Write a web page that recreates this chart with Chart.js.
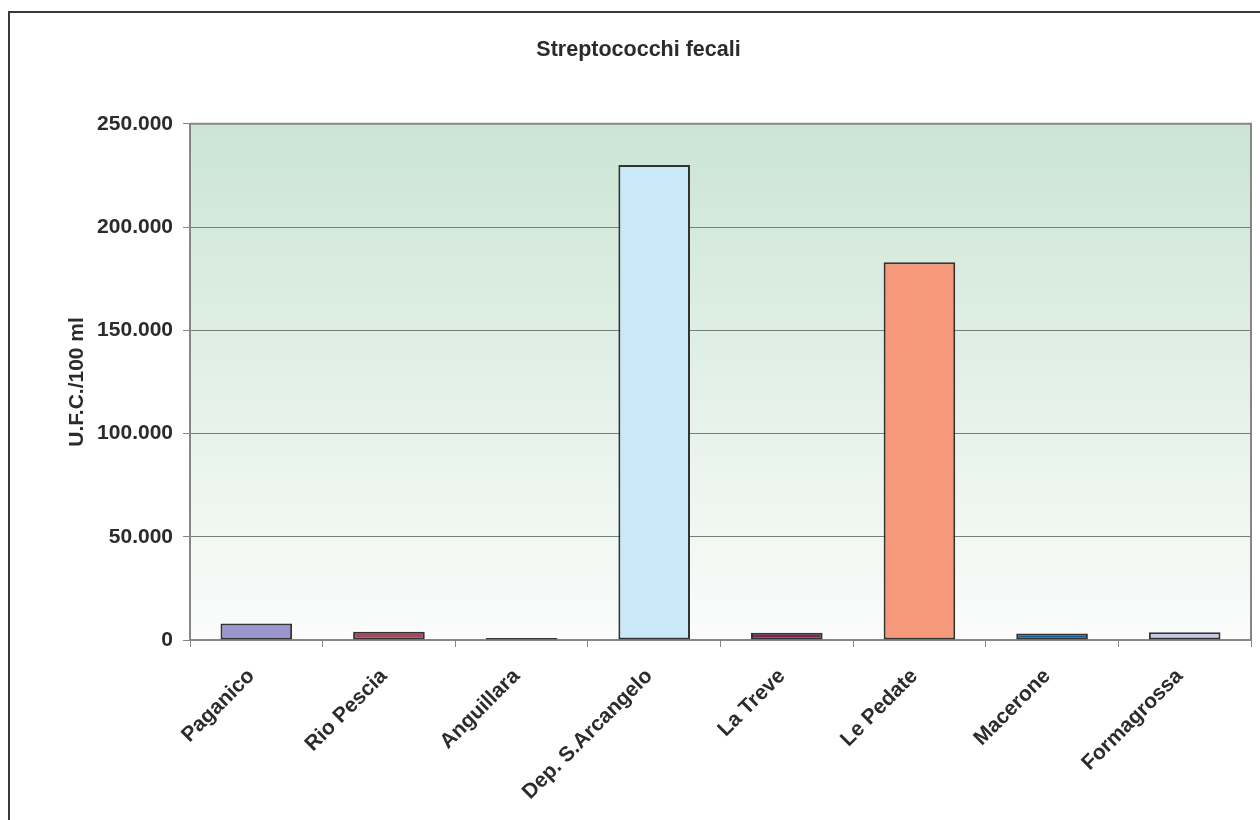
<!DOCTYPE html>
<html>
<head>
<meta charset="utf-8">
<title>Streptococchi fecali</title>
<script src="https://cdn.jsdelivr.net/npm/chart.js@4.4.1/dist/chart.umd.min.js"></script>
<style>
  html, body { margin: 0; padding: 0; background: #fff; overflow: hidden; }
  #wrap { position: relative; width: 1260px; height: 820px; }
  #frame { position: absolute; left: 8px; top: 11px; width: 1300px; height: 900px; border: 2px solid #3a3a3a; box-sizing: border-box; }
  canvas { position: absolute; left: 0; top: 0; }
</style>
</head>
<body>
<div id="wrap">
  <div id="frame"></div>
  <canvas id="bar-chart" width="1260" height="820"></canvas>
</div>
<script>
var stations = ['Paganico', 'Rio Pescia', 'Anguillara', 'Dep. S.Arcangelo', 'La Treve', 'Le Pedate', 'Macerone', 'Formagrossa'];
var ufc = [8000, 4000, 1000, 230000, 3500, 183000, 3200, 3800];
var barColors = ['#9b96cb', '#a14a5e', '#ffffcc', '#cae9f8', '#7a2456', '#f5997a', '#0b5f96', '#c8c8e8'];
var yTicks = [0, 50000, 100000, 150000, 200000, 250000];

var FONT = "'Liberation Sans', Arial, sans-serif";
var TEXT = '#2b2b2b';
var AXIS = '#8c8482';

function formatNum(v) {
	return String(v).replace(/\B(?=(\d{3})+(?!\d))/g, '.');
}

// green fade behind the bars, and top/right edges of the plot box
var plotBox = {
	id: 'plotBox',
	beforeDraw: function(chart) {
		var a = chart.chartArea, ctx = chart.ctx;
		var g = ctx.createLinearGradient(0, a.top, 0, a.bottom);
		g.addColorStop(0, '#cbe5d4');
		g.addColorStop(1, '#fbfcfb');
		ctx.save();
		ctx.fillStyle = g;
		ctx.fillRect(a.left, a.top, a.right - a.left, a.bottom - a.top);
		ctx.restore();
	},
	afterDraw: function(chart) {
		var a = chart.chartArea, ctx = chart.ctx;
		ctx.save();
		ctx.strokeStyle = AXIS;
		ctx.lineWidth = 2;
		ctx.beginPath();
		ctx.moveTo(a.left, a.top);
		ctx.lineTo(a.right, a.top);
		ctx.lineTo(a.right, a.bottom);
		ctx.stroke();
		ctx.restore();
	}
};

var ctx = document.getElementById('bar-chart').getContext('2d');
var chart = new Chart(ctx, {
	type: 'bar',
	data: {
		labels: stations,
		datasets: [{
			label: 'U.F.C./100 ml',
			data: ufc,
			backgroundColor: barColors,
			borderColor: '#333333',
			borderWidth: 2,
			borderSkipped: false,
			categoryPercentage: 1,
			barPercentage: 0.54
		}]
	},
	options: {
		responsive: false,
		animation: false,
		devicePixelRatio: 1,
		// left padding keeps the title centred a little right of the canvas middle
		layout: { padding: { left: 26, right: 9, top: 0, bottom: 0 } },
		plugins: {
			legend: { display: false },
			tooltip: { enabled: false },
			title: {
				display: true,
				text: 'Streptococchi fecali',
				color: TEXT,
				font: { family: FONT, size: 21.5, weight: 'bold' },
				padding: { top: 37, bottom: 61 }
			}
		},
		scales: {
			x: {
				grid: { drawOnChartArea: false, drawTicks: true, tickLength: 7, tickColor: AXIS, offset: true },
				border: { display: true, color: AXIS, width: 2 },
				ticks: {
					color: TEXT,
					font: { family: FONT, size: 21, weight: 'bold' },
					minRotation: 45,
					maxRotation: 45,
					padding: 17,
					labelOffset: -5
				},
				afterFit: function(scale) { scale.height = 180; }
			},
			y: {
				min: 0,
				max: 250000,
				afterBuildTicks: function(scale) {
					scale.ticks = yTicks.map(function(v) { return { value: v }; });
				},
				grid: { color: '#75807a', lineWidth: 1, drawTicks: true, tickLength: 7, tickColor: AXIS },
				border: { display: true, color: AXIS, width: 2 },
				ticks: {
					color: TEXT,
					font: { family: FONT, size: 21, weight: 'bold' },
					padding: 10,
					callback: function(v) { return formatNum(v); }
				},
				title: {
					display: true,
					text: 'U.F.C./100 ml',
					color: TEXT,
					font: { family: FONT, size: 21, weight: 'bold' },
					padding: { top: 39, bottom: 0 }
				},
				afterFit: function(scale) { scale.width = 164; }
			}
		}
	},
	plugins: [plotBox]
});
</script>
</body>
</html>
